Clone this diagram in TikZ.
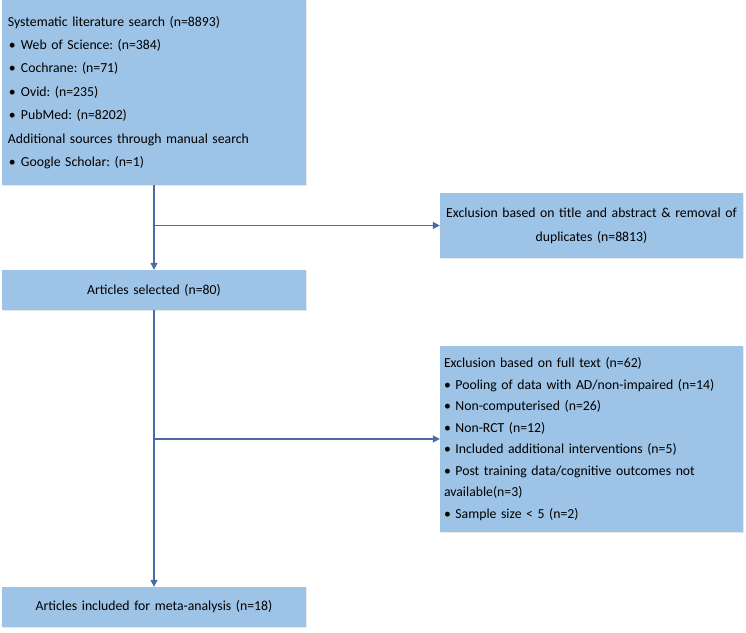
\documentclass[tikz,border=0pt]{standalone}
\usepackage{fontspec}
\setmainfont{Carlito}
\usepackage{xcolor}
\usepackage{tikz}
\usetikzlibrary{arrows.meta}
\usetikzlibrary{shadows}
\definecolor{boxfill}{HTML}{9DC3E6}
\definecolor{linecol}{HTML}{4A6BA3}
\tikzset{
	flow box/.style={rectangle,fill=boxfill,inner xsep=6bp,inner ysep=0pt,
		drop shadow={opacity=0.18,shadow xshift=1.2bp,shadow yshift=-1.2bp}},
	left box/.style={flow box,align=left,font=\fontsize{13.8}{23.5}\selectfont},
	mid box/.style={flow box,align=center,font=\fontsize{13.8}{24}\selectfont},
	flow line/.style={draw=linecol,line width=1.3bp}
}
\newcommand{\itm}{\hspace*{1bp}\makebox[12bp][l]{\textbullet}}
\frenchspacing

\begin{document}
\begin{tikzpicture}[x=1bp,y=-1bp,>={Triangle[length=7bp,width=7bp]}]
	\useasboundingbox (0,0) rectangle (746,633);
	% left column
	\node [left box,minimum width=304bp,minimum height=185bp,text width=292bp] (search) at (154,92.5)
		{Systematic literature search (n=8893)\\
		\itm Web of Science: (n=384)\\
		\itm Cochrane: (n=71)\\
		\itm Ovid: (n=235)\\
		\itm PubMed: (n=8202)\\
		Additional sources through manual search\\
		\itm Google Scholar: (n=1)};
	\node [mid box,minimum width=304bp,minimum height=40bp,text width=292bp] (selected) at (154,290)
		{Articles selected (n=80)};
	\node [mid box,minimum width=304bp,minimum height=40bp,text width=292bp] (included) at (154,607)
		{Articles included for meta-analysis (n=18)};
	% right column
	\node [mid box,minimum width=303bp,minimum height=65bp,text width=299bp,inner xsep=2bp] (excl1) at (591.5,225.5)
		{Exclusion based on title and abstract \& removal of\\ duplicates (n=8813)};
	\node [left box,font=\fontsize{13.8}{21.6}\selectfont,minimum width=303bp,minimum height=186bp,text width=295bp,inner xsep=4bp] (excl2) at (591.5,439)
		{Exclusion based on full text (n=62)\\
		\textbullet{} Pooling of data with AD/non-impaired (n=14)\\
		\textbullet{} Non-computerised (n=26)\\
		\textbullet{} Non-RCT (n=12)\\
		\textbullet{} Included additional interventions (n=5)\\
		\textbullet{} Post training data/cognitive outcomes not\\
		available(n=3)\\
		\textbullet{} Sample size {\textless} 5 (n=2)};
	% connectors
	\coordinate (b1) at (search.south |- excl1.west);
	\coordinate (b2) at (selected.south |- excl2.west);
	\draw [flow line,->] (search.south) -- (selected.north);
	\draw [flow line,->] (b1) -- (excl1.west);
	\draw [flow line,->] (selected.south) -- (included.north);
	\draw [flow line,->] (b2) -- (excl2.west);
\end{tikzpicture}
\end{document}
